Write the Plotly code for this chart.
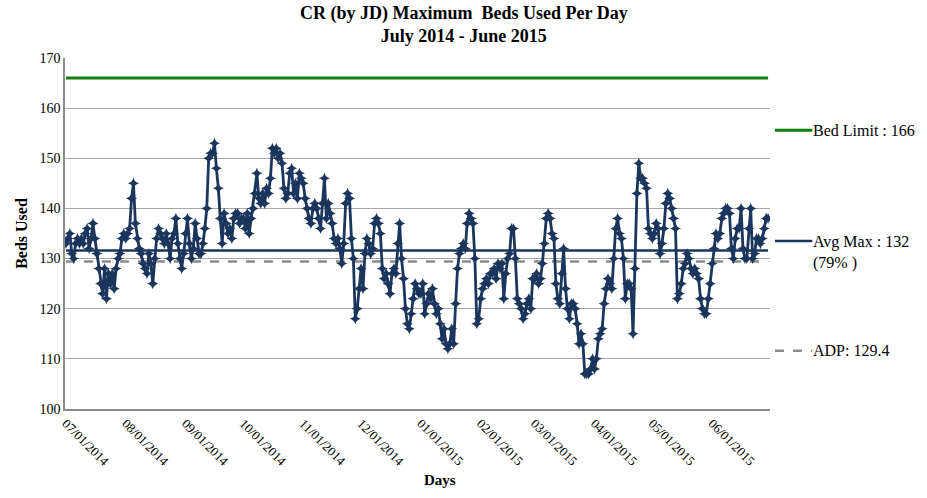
import pandas as pd
import plotly.graph_objects as go

# daily maximum beds used, one list per month
jul_2014 = [133, 134, 135, 131, 130, 133, 134, 133, 134, 133, 135, 136, 132, 134, 137, 134,
            131, 128, 125, 123, 128, 122, 127, 125, 127, 124, 128, 130, 131, 134, 135]
aug_2014 = [134, 135, 136, 142, 145, 137, 134, 132, 131, 129, 128, 127, 131, 129, 125, 130,
            134, 136, 135, 134, 133, 135, 133, 130, 134, 135, 138, 133, 130, 128, 131]
sep_2014 = [135, 138, 133, 130, 132, 137, 134, 131, 131, 133, 136, 140, 150, 151, 151, 153,
            148, 144, 138, 133, 139, 137, 135, 136, 134, 138, 139, 139, 137, 138]
oct_2014 = [138, 136, 139, 135, 138, 140, 143, 147, 142, 141, 143, 141, 144, 143, 146, 152,
            151, 152, 150, 151, 149, 144, 142, 143, 147, 148, 143, 145, 142, 147, 146]
nov_2014 = [145, 142, 140, 138, 137, 140, 141, 140, 138, 136, 141, 146, 138, 141, 139, 137,
            134, 133, 134, 132, 129, 133, 141, 143, 142, 134, 130, 118, 120, 124]
dec_2014 = [128, 124, 131, 134, 133, 131, 132, 137, 138, 137, 135, 128, 126, 127, 125, 123,
            127, 128, 127, 133, 137, 130, 126, 120, 117, 116, 119, 122, 125, 124, 123]
jan_2015 = [123, 125, 119, 121, 123, 122, 124, 121, 119, 120, 117, 114, 116, 113, 112, 113,
            116, 113, 121, 128, 131, 132, 133, 132, 137, 139, 138, 137, 130, 117, 118]
feb_2015 = [122, 124, 125, 126, 125, 127, 127, 128, 126, 129, 128, 129, 122, 127, 130, 131,
            136, 136, 130, 122, 121, 120, 118, 119, 121, 122, 120, 126]
mar_2015 = [126, 127, 125, 126, 129, 133, 138, 139, 138, 135, 134, 125, 122, 121, 127, 132,
            124, 120, 118, 121, 121, 120, 117, 113, 115, 113, 107, 107, 107, 108, 110]
apr_2015 = [108, 110, 114, 115, 116, 121, 124, 126, 125, 124, 130, 136, 138, 135, 134, 130,
            122, 125, 125, 124, 115, 128, 143, 149, 146, 146, 145, 144, 136, 135]
may_2015 = [134, 135, 137, 136, 131, 133, 136, 141, 143, 142, 140, 138, 136, 122, 123, 125,
            128, 129, 131, 130, 128, 127, 128, 127, 126, 122, 120, 119, 119, 122, 125]
jun_2015 = [129, 132, 135, 134, 135, 138, 139, 140, 140, 139, 132, 130, 134, 136, 136, 140,
            132, 130, 130, 136, 140, 130, 131, 134, 134, 133, 134, 136, 138, 138]

beds = (jul_2014 + aug_2014 + sep_2014 + oct_2014 + nov_2014 + dec_2014 +
        jan_2015 + feb_2015 + mar_2015 + apr_2015 + may_2015 + jun_2015)
days = pd.date_range("2014-07-01", periods=len(beds), freq="D")

bed_limit = 166
avg_max = 131.6
adp = 129.4

month_ticks = pd.date_range("2014-07-01", "2015-06-01", freq="MS")

navy = "#1B365D"
serif = "Liberation Serif, Times New Roman, serif"

fig = go.Figure()

fig.add_trace(go.Scatter(x=[days[0], days[-1]], y=[bed_limit, bed_limit], mode="lines",
                         line=dict(color="#118011", width=3), hoverinfo="skip"))
fig.add_trace(go.Scatter(x=[days[0], days[-1]], y=[adp, adp], mode="lines",
                         line=dict(color="#8C8C8C", width=2.5, dash="dash"), hoverinfo="skip"))
fig.add_trace(go.Scatter(x=[days[0], days[-1]], y=[avg_max, avg_max], mode="lines",
                         line=dict(color=navy, width=2.5), hoverinfo="skip"))
fig.add_trace(go.Scatter(x=days, y=beds, mode="lines+markers",
                         line=dict(color=navy, width=2.8),
                         marker=dict(symbol="star-diamond", size=8, color=navy)))

# legend drawn at the right, Excel style
legend_items = [
    (155.6, "Bed Limit : 166", dict(color="#118011", width=3)),
    (133.5, "Avg Max : 132<br>(79% )", dict(color=navy, width=2.5)),
    (111.6, "ADP: 129.4", dict(color="#8C8C8C", width=2.5, dash="dash")),
]
for ypos, label, ln in legend_items:
    fig.add_shape(type="line", xref="paper", yref="y", x0=1.007, x1=1.060,
                  y0=ypos, y1=ypos, line=ln)
    two_lines = "<br>" in label
    fig.add_annotation(xref="paper", yref="y", x=1.058, y=ypos, text=label,
                       showarrow=False, xanchor="left", align="left",
                       yanchor="top" if two_lines else "middle",
                       yshift=10 if two_lines else 0,
                       font=dict(family=serif, size=16, color="black"))

# two-line bold title
fig.add_annotation(xref="paper", yref="paper", x=0.566, y=1.162, yanchor="top",
                   text="<b>CR (by JD) Maximum  Beds Used Per Day<br>July 2014 - June 2015</b>",
                   showarrow=False, font=dict(family=serif, size=18, color="black"))

# x axis title sits a little right of centre in the original
fig.add_annotation(xref="paper", yref="paper", x=0.532, y=-0.202, yanchor="middle",
                   text="<b>Days</b>", showarrow=False,
                   font=dict(family=serif, size=15, color="black"))

fig.update_layout(
    width=927, height=498,
    margin=dict(l=65, r=157, t=58, b=89, autoexpand=False),
    paper_bgcolor="white", plot_bgcolor="white",
    showlegend=False,
    font=dict(family=serif, size=13, color="black"),
)

fig.update_xaxes(
    range=[pd.Timestamp("2014-06-30 12:00"), pd.Timestamp("2015-07-01")],
    tickvals=month_ticks, ticktext=[d.strftime("%m/%d/%Y") for d in month_ticks],
    tickangle=45, tickfont=dict(size=13), automargin=False,
    showgrid=False, showline=True, linecolor="#8C8C8C", linewidth=1.5,
)
fig.update_yaxes(
    range=[100, 170], dtick=10, automargin=False,
    showgrid=True, gridcolor="#A6A6A6", gridwidth=1,
    showline=True, linecolor="#8C8C8C", linewidth=1.5,
    zeroline=False, tickfont=dict(size=14),
    title=dict(text="<b>Beds Used</b>", font=dict(size=16), standoff=8),
)

# drop the page's default body margin so the figure sits at the window corner
fig.write_html("out.html", config={"displayModeBar": False},
               post_script="document.body.style.margin = '0px';")
